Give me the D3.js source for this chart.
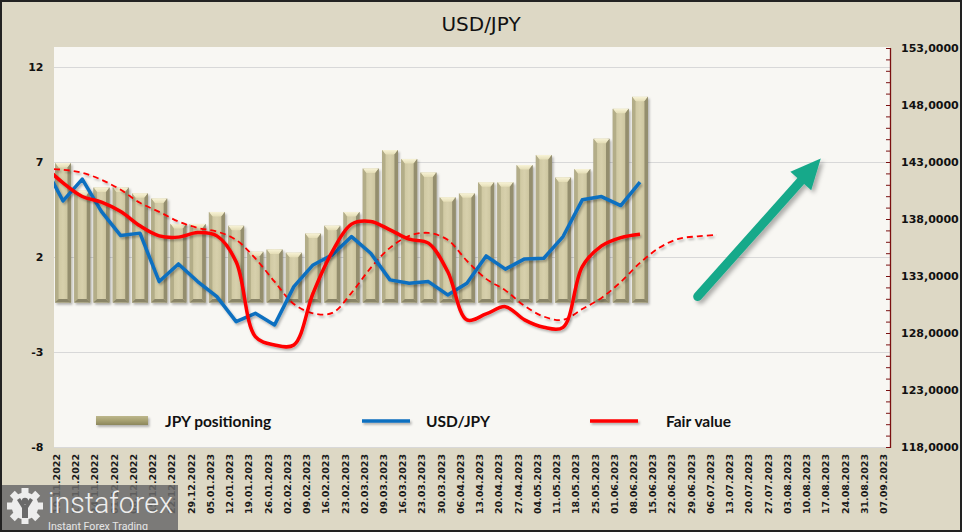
<!DOCTYPE html>
<html><head><meta charset="utf-8">
<script src="https://cdn.jsdelivr.net/npm/d3@7"></script>
<style>
html,body{margin:0;padding:0;background:#DDD8C5;}
svg{display:block}
</style></head><body>
<svg id="chart" width="962" height="532"></svg>
<script>
// ---------------- DATA ----------------
// weekly categories; the first one (03.11.2022) lies just left of the visible plot (clipped)
const allDates = ['03.11.2022','10.11.2022','17.11.2022','24.11.2022','01.12.2022','08.12.2022','15.12.2022','22.12.2022',
  '29.12.2022','05.01.2023','12.01.2023','19.01.2023','26.01.2023','02.02.2023','09.02.2023','16.02.2023','23.02.2023',
  '02.03.2023','09.03.2023','16.03.2023','23.03.2023','30.03.2023','06.04.2023','13.04.2023','20.04.2023','27.04.2023',
  '04.05.2023','11.05.2023','18.05.2023','25.05.2023','01.06.2023','08.06.2023','15.06.2023','22.06.2023','29.06.2023',
  '06.07.2023','13.07.2023','20.07.2023','27.07.2023','03.08.2023','10.08.2023','17.08.2023','24.08.2023','31.08.2023','07.09.2023'];
// JPY positioning (left axis), from 10.11.2022 to 08.06.2023
const jpyPositioning = [6.95,5.5,5.66,5.66,5.35,5.08,3.74,3.74,4.37,3.65,2.28,2.4,2.23,3.24,3.65,4.37,
  6.66,7.63,7.16,6.45,5.14,5.35,5.93,5.93,6.84,7.37,6.19,6.63,8.23,9.8,10.43];
// USD/JPY (right axis), from 03.11.2022 to 08.06.2023
const usdJpy = [142.75,139.59,141.5,138.65,136.55,136.76,132.51,134.06,132.51,131.19,129.0,129.73,128.71,132.07,133.97,134.85,
  136.46,135.0,132.66,132.37,132.51,131.34,132.37,134.76,133.6,134.5,134.56,136.46,139.68,139.97,139.18,141.24];
// Fair value (right axis), from 03.11.2022 to 08.06.2023
const fairValue = [142.67,141.17,139.97,139.48,138.65,137.4,136.52,136.41,136.81,136.52,134.26,127.68,126.95,126.95,131.49,135.14,
  137.55,137.78,137.05,136.23,135.88,133.39,129.15,129.67,130.31,129.15,128.5,128.5,133.83,135.64,136.37,136.67];
// Fair value, leading (dashed), from 03.11.2022 to 06.07.2023
const fairValueLead = [142.4,142.32,142.05,141.44,140.56,139.42,138.63,137.78,137.22,136.9,136.17,134.54,132.5,130.55,129.73,129.76,
  131.52,133.71,135.47,136.52,136.78,136.17,134.33,132.75,131.74,130.37,129.44,129.15,130.1,131.08,132.48,134.15,135.47,136.26,136.48,136.61];
const leftTicks = [-8,-3,2,7,12];
const rightTicks = [118,123,128,133,138,143,148,153];
const leftDomain = [-8,13];
const rightDomain = [118,153];
const barBase = -0.4;
const chartTitle = 'USD/JPY';
const legendLabels = ['JPY positioning','USD/JPY','Fair value'];
// arrow annotation (category index, right-axis value)
const arrowFrom = {i:34, v:131.2};
const arrowTo = {i:40.4, v:143.3};

// ---------------- LAYOUT ----------------
const W = 962, H = 532;
const plot = {left:54, right:890, top:47, bottom:447};
const svg = d3.select('#chart');
const defs = svg.append('defs');

const x = d3.scalePoint().domain(allDates).range([plot.left - 10.2, plot.right]);
const xAt = i => x.range()[0] + i * x.step();
const yL = d3.scaleLinear().domain(leftDomain).range([plot.bottom, 48]);
const yR = d3.scaleLinear().domain(rightDomain).range([plot.bottom, 48]);

// defs
function mkShadow(id, dx, dy, sd, op){
  const f = defs.append('filter').attr('id',id).attr('filterUnits','userSpaceOnUse')
    .attr('x',0).attr('y',0).attr('width',W).attr('height',H);
  f.append('feDropShadow').attr('dx',dx).attr('dy',dy).attr('stdDeviation',sd).attr('flood-color','#000').attr('flood-opacity',op);
}
mkShadow('shadow',1.5,2,1.3,0.28);
mkShadow('shadow2',3,3,2,0.3);
const gFace = defs.append('linearGradient').attr('id','barFace').attr('x1',0).attr('x2',1).attr('y1',0).attr('y2',0);
[[0,'#A39D7B'],[0.16,'#CEC7A1'],[0.5,'#D7D0AC'],[0.84,'#CBC49E'],[1,'#8F896A']].forEach(s=>gFace.append('stop').attr('offset',s[0]).attr('stop-color',s[1]));
const gCap = defs.append('linearGradient').attr('id','barCap').attr('x1',0).attr('x2',0).attr('y1',0).attr('y2',1);
[[0,'#F8F3D6'],[1,'#E4DDB6']].forEach(s=>gCap.append('stop').attr('offset',s[0]).attr('stop-color',s[1]));
const gLeg = defs.append('linearGradient').attr('id','legBar').attr('x1',0).attr('x2',0).attr('y1',0).attr('y2',1);
[[0,'#BDB78C'],[0.5,'#A8A272'],[1,'#8C875D']].forEach(s=>gLeg.append('stop').attr('offset',s[0]).attr('stop-color',s[1]));
defs.append('clipPath').attr('id','plotClip').append('rect')
  .attr('x',plot.left).attr('y',plot.top).attr('width',plot.right-plot.left).attr('height',plot.bottom-plot.top);

// background
svg.append('rect').attr('width',W).attr('height',H).attr('fill','#DDD8C5');
svg.append('rect').attr('x',plot.left).attr('y',plot.top).attr('width',plot.right-plot.left).attr('height',plot.bottom-plot.top).attr('fill','#F8F7F3');

// title
svg.append('text').attr('x',481).attr('y',24).attr('text-anchor','middle').attr('dominant-baseline','central')
  .style('font-family','"DejaVu Sans", Verdana, sans-serif').style('font-size','20px').attr('fill','#111').text(chartTitle);

// gridlines
svg.append('g').selectAll('line').data(leftTicks).join('line')
  .attr('x1',plot.left).attr('x2',plot.right).attr('y1',d=>yL(d)+0.5).attr('y2',d=>yL(d)+0.5)
  .attr('stroke','#D8D8D8').attr('stroke-width',1);

// left axis labels
const axL = svg.append('g').attr('transform',`translate(${plot.left},0)`)
  .call(d3.axisLeft(yL).tickValues(leftTicks).tickSize(0).tickPadding(10.5).tickFormat(d=>String(d)));
axL.select('.domain').remove();
axL.selectAll('text').style('font-family','"DejaVu Sans", Verdana, sans-serif').style('font-size','11px').style('font-weight','bold').attr('fill','#111');

// right axis
const axisColor = '#7A1010';
const axRt = svg.append('g').attr('transform',`translate(${plot.right},0)`)
  .call(d3.axisLeft(yR).tickValues(d3.range(rightDomain[0], rightDomain[1]+1, 1)).tickSize(4).tickSizeOuter(0).tickFormat(''));
axRt.select('.domain').remove();
axRt.selectAll('.tick line').attr('stroke',axisColor).attr('stroke-width',1);
svg.append('line').attr('x1',plot.right+0.5).attr('x2',plot.right+0.5)
  .attr('y1',yR(rightDomain[1])).attr('y2',yR(rightDomain[0])+1)
  .attr('stroke',axisColor).attr('stroke-width',1.3);
const axRl = svg.append('g').attr('transform',`translate(${plot.right},0)`)
  .call(d3.axisRight(yR).tickValues(rightTicks).tickSize(0).tickPadding(11).tickFormat(d=>d.toFixed(4).replace('.',',')));
axRl.select('.domain').remove();
axRl.selectAll('text').style('font-family','"DejaVu Sans", Verdana, sans-serif').style('font-size','11px').style('font-weight','bold').attr('fill','#111');

// x axis labels
svg.append('g').selectAll('text').data(allDates.slice(1)).join('text')
  .attr('transform',d=>`translate(${x(d)-3},454) rotate(-90)`)
  .attr('text-anchor','end')
  .style('font-family','"DejaVu Sans", Verdana, sans-serif').style('font-size','9.5px').style('font-weight','bold')
  .attr('fill','#1a1a1a').text(d=>d);

// plot content (clipped)
const pg = svg.append('g').attr('clip-path','url(#plotClip)');

// bars
const barData = jpyPositioning.map((v,i)=>({date:allDates[i+1], v}));
const bw = x.step()*0.83;
const bars = pg.append('g').selectAll('g').data(barData).join('g').attr('filter','url(#shadow)');
bars.each(function(d){
  const g = d3.select(this);
  const x0 = x(d.date)-bw/2, x1 = x(d.date)+bw/2;
  const yt = yL(d.v), yb = yL(barBase);
  g.append('rect').attr('x',x0).attr('y',yt).attr('width',bw).attr('height',yb-yt).attr('fill','url(#barFace)');
  g.append('path').attr('d',`M${x0},${yt}L${x1},${yt}L${x1-3.5},${yt+4.5}L${x0+3.5},${yt+4.5}Z`).attr('fill','url(#barCap)');
  g.append('path').attr('d',`M${x0},${yt}L${x0+3.5},${yt+4.5}L${x0+3.5},${yb-3.5}L${x0},${yb}Z`).attr('fill','#B3AD88');
  g.append('path').attr('d',`M${x1},${yt}L${x1-3.5},${yt+4.5}L${x1-3.5},${yb-3.5}L${x1},${yb}Z`).attr('fill','#948E6E');
  g.append('path').attr('d',`M${x0},${yb}L${x1},${yb}L${x1-3.5},${yb-3.5}L${x0+3.5},${yb-3.5}Z`).attr('fill','#8A8567');
});

// lines
const toPts = arr => arr.map((v,i)=>({date:allDates[i], v}));
const lineStraight = d3.line().x(d=>x(d.date)).y(d=>yR(d.v));
const lineSmooth = d3.line().x(d=>x(d.date)).y(d=>yR(d.v)).curve(d3.curveCatmullRom.alpha(0.5));
pg.append('path').datum(toPts(fairValueLead)).attr('d',lineSmooth).attr('fill','none')
  .attr('stroke','#FF0000').attr('stroke-width',1.8).attr('stroke-dasharray','6,4').attr('filter','url(#shadow)');
pg.append('path').datum(toPts(usdJpy)).attr('d',lineStraight).attr('fill','none')
  .attr('stroke','#0F70C0').attr('stroke-width',3.5).attr('stroke-linejoin','round').attr('filter','url(#shadow)');
pg.append('path').datum(toPts(fairValue)).attr('d',lineSmooth).attr('fill','none')
  .attr('stroke','#FF0000').attr('stroke-width',3.5).attr('stroke-linejoin','round').attr('filter','url(#shadow)');

// arrow annotation
(function(){
  const t = [xAt(arrowFrom.i), yR(arrowFrom.v)], h = [xAt(arrowTo.i), yR(arrowTo.v)];
  const dx = h[0]-t[0], dy = h[1]-t[1], L = Math.hypot(dx,dy), ux = dx/L, uy = dy/L, nx = -uy, ny = ux;
  const headLen = 30, halfW = 14;
  const b = [h[0]-ux*headLen, h[1]-uy*headLen];
  const g = svg.append('g').attr('filter','url(#shadow2)');
  g.append('line').attr('x1',t[0]).attr('y1',t[1]).attr('x2',b[0]+ux*3).attr('y2',b[1]+uy*3)
    .attr('stroke','#19A98A').attr('stroke-width',9).attr('stroke-linecap','round');
  g.append('path').attr('d',`M${h[0]},${h[1]}L${b[0]+nx*halfW},${b[1]+ny*halfW}L${b[0]-nx*halfW},${b[1]-ny*halfW}Z`).attr('fill','#19A98A');
})();

// legend
const legY = 421;
const lg = svg.append('g');
lg.append('rect').attr('x',96).attr('y',legY-5).attr('width',52).attr('height',9).attr('fill','url(#legBar)').attr('filter','url(#shadow)');
lg.append('rect').attr('x',362).attr('y',legY-1.75).attr('width',48).attr('height',3.5).attr('fill','#0F70C0').attr('filter','url(#shadow)');
lg.append('rect').attr('x',590).attr('y',legY-1.75).attr('width',48).attr('height',3.5).attr('fill','#FF0000').attr('filter','url(#shadow)');
lg.selectAll('text').data(legendLabels).join('text')
  .attr('x',(d,i)=>[165,426,666][i]).attr('y',legY).attr('dominant-baseline','central')
  .style('font-family','Lato, "Open Sans", sans-serif').style('font-size','15.5px').style('font-weight','bold')
  .attr('fill','#111').text(d=>d);

// watermark
const wm = svg.append('g');
wm.append('rect').attr('x',0).attr('y',485).attr('width',178).attr('height',47).attr('fill','#6A6A6A').attr('opacity',0.85);
const gear = wm.append('g').attr('transform','translate(25,506)');
d3.range(8).forEach(k=>{
  gear.append('rect').attr('x',-3.5).attr('y',-18).attr('width',7).attr('height',8).attr('fill','#EDEDED')
    .attr('transform',`rotate(${k*45})`);
});
gear.append('circle').attr('r',13.5).attr('fill','#EDEDED');
gear.append('circle').attr('cx',0).attr('cy',-5).attr('r',3.2).attr('fill','#6A6A6A');
gear.append('path').attr('d','M-8,-6 L-3,2 L-3,12 L3,12 L3,2 L8,-6 L5,-8 L0,-1 L-5,-8Z').attr('fill','#6A6A6A');
wm.append('text').attr('x',48).attr('y',513).attr('textLength',125).attr('lengthAdjust','spacingAndGlyphs')
  .style('font-family','Roboto, "Open Sans", sans-serif').style('font-size','30px').style('font-weight','300')
  .attr('fill','#EEEEEE').text('instaforex');
wm.append('text').attr('x',48).attr('y',530).attr('textLength',100).attr('lengthAdjust','spacingAndGlyphs')
  .style('font-family','Roboto, "Open Sans", sans-serif').style('font-size','10px')
  .attr('fill','#E6E6E6').text('Instant Forex Trading');

// outer border
svg.append('rect').attr('x',1).attr('y',1).attr('width',W-2).attr('height',H-2).attr('fill','none').attr('stroke','#222').attr('stroke-width',2);
</script>
</body></html>
